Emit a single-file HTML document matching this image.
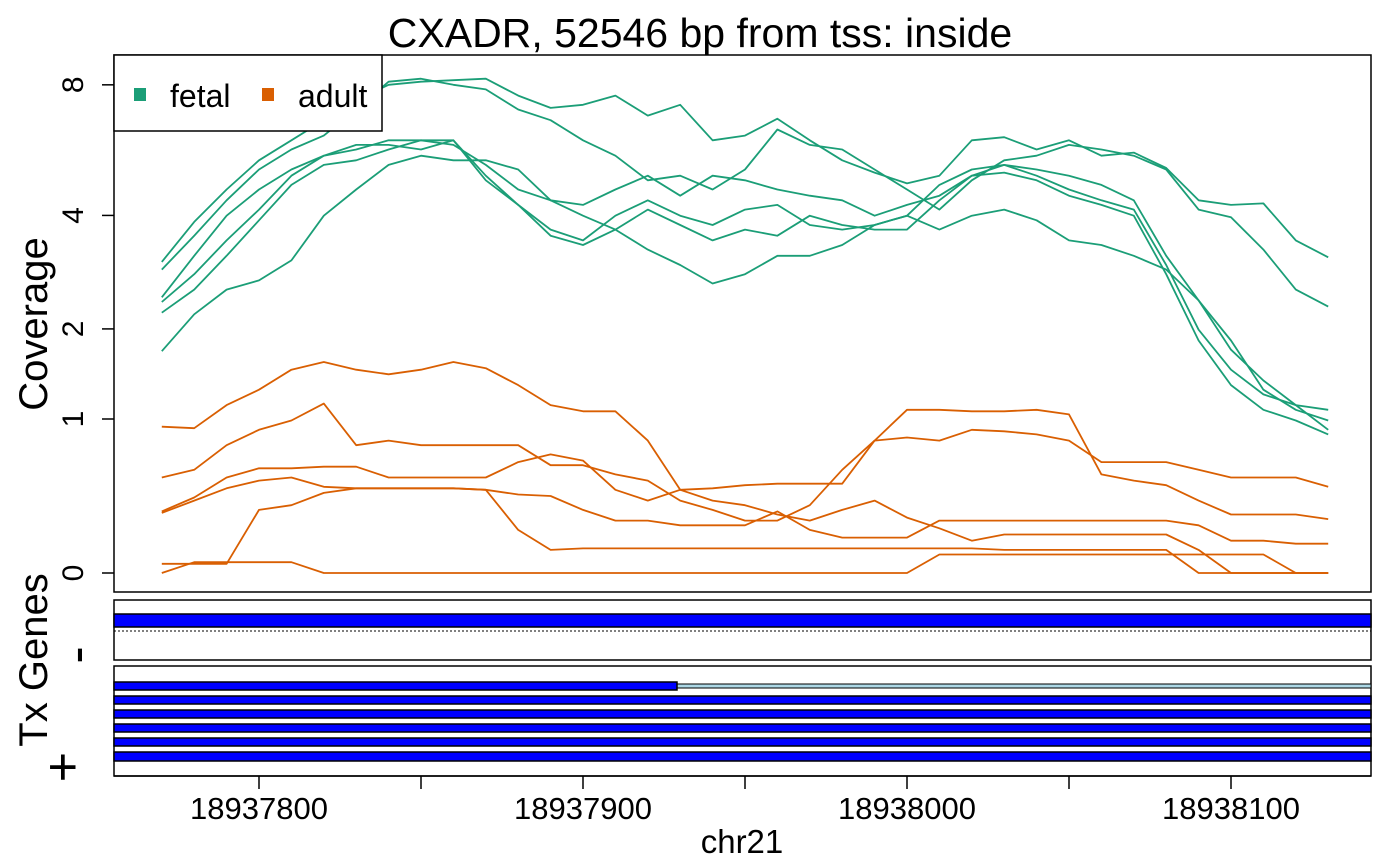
<!DOCTYPE html>
<html><head><meta charset="utf-8"><style>
html,body{margin:0;padding:0;background:#fff;}
svg{display:block;font-family:"Liberation Sans",Arial,sans-serif;}
</style></head><body>
<svg id="chart" width="1400" height="865" viewBox="0 0 1400 865">
<text x="700" y="47" text-anchor="middle" font-size="41">CXADR, 52546 bp from tss: inside</text>
<g id="ytitle"><text transform="translate(47,324) rotate(-90)" text-anchor="middle" font-size="40">Coverage</text></g>
<rect x="114" y="55" width="1257" height="537" fill="none" stroke="#000" stroke-width="1.5"/>
<g id="yaxis"></g>
<g id="series"></g>
<g>
<rect x="114" y="55" width="268" height="76" fill="#fff" stroke="#000" stroke-width="1.5"/>
<rect x="134" y="88" width="12" height="13" fill="#1b9e77"/>
<text x="170" y="107" font-size="32">fetal</text>
<rect x="262" y="88" width="12" height="13" fill="#d95f02"/>
<text x="298" y="107" font-size="32">adult</text>
</g>
<g>
<rect x="114" y="600" width="1257" height="60" fill="#fff" stroke="#000" stroke-width="1.5"/>
<rect x="114" y="614" width="1257" height="13" fill="#0000ff" stroke="#000" stroke-width="1.5"/>
<line x1="114" y1="631" x2="1371" y2="631" stroke="#000" stroke-width="1" stroke-dasharray="2,2"/>
</g>
<g>
<rect x="114" y="666" width="1257" height="110" fill="#fff" stroke="#000" stroke-width="1.5"/>
<rect x="677" y="684" width="694" height="4" fill="#add8e6" stroke="#000" stroke-width="1"/>
<rect x="114" y="682" width="563" height="8" fill="#0000ff" stroke="#000" stroke-width="1.5"/>
<rect x="114" y="696" width="1257" height="8" fill="#0000ff" stroke="#000" stroke-width="1.5"/>
<rect x="114" y="710" width="1257" height="8" fill="#0000ff" stroke="#000" stroke-width="1.5"/>
<rect x="114" y="724" width="1257" height="8" fill="#0000ff" stroke="#000" stroke-width="1.5"/>
<rect x="114" y="738" width="1257" height="8" fill="#0000ff" stroke="#000" stroke-width="1.5"/>
<rect x="114" y="752" width="1257" height="9" fill="#0000ff" stroke="#000" stroke-width="1.5"/>
</g>
<g>
<text transform="translate(47,660) rotate(-90)" text-anchor="middle" font-size="40">Tx Genes</text>
<text transform="translate(94,655) rotate(-90)" text-anchor="middle" font-size="52">-</text>
<text transform="translate(80,767) rotate(-90)" text-anchor="middle" font-size="52">+</text>
</g>
<g id="xaxis"></g>
<text x="742" y="853" text-anchor="middle" font-size="33">chr21</text>
</svg>
<script>
// positions (bp) and series values in log2(coverage + 1)
const positions = [];
for (let i = 0; i < 37; i++) positions.push(18937770 + 10 * i);
const yTickValues = [0, 1, 2, 4, 8];
const xTickValues = [18937800, 18937850, 18937900, 18937950, 18938000, 18938050, 18938100];
const xTickLabels = ["18937800", "", "18937900", "", "18938000", "", "18938100"];
const fetal1 = [2.02,2.28,2.49,2.68,2.81,2.94,3.07,3.17,3.19,3.20,3.21,3.10,3.02,3.04,3.10,2.97,3.04,2.81,2.84,2.95,2.81,2.68,2.60,2.53,2.58,2.81,2.83,2.75,2.81,2.71,2.73,2.63,2.42,2.39,2.40,2.16,2.05];
const fetal2 = [1.97,2.19,2.42,2.62,2.75,2.84,3.01,3.19,3.21,3.17,3.14,3.01,2.94,2.81,2.71,2.55,2.58,2.49,2.62,2.88,2.78,2.75,2.62,2.49,2.36,2.55,2.68,2.71,2.78,2.75,2.71,2.62,2.36,2.31,2.10,1.84,1.73];
const fetal3 = [1.79,2.06,2.32,2.49,2.62,2.71,2.75,2.81,2.81,2.78,2.65,2.49,2.42,2.39,2.49,2.58,2.45,2.58,2.55,2.49,2.45,2.42,2.32,2.39,2.45,2.58,2.65,2.62,2.58,2.52,2.42,2.06,1.77,1.45,1.25,1.09,1.06];
const fetal4 = [1.76,1.94,2.16,2.36,2.58,2.71,2.78,2.78,2.75,2.81,2.58,2.39,2.23,2.16,2.32,2.42,2.32,2.26,2.36,2.39,2.26,2.23,2.26,2.32,2.52,2.62,2.65,2.58,2.49,2.42,2.36,2.00,1.58,1.32,1.16,1.09,0.93];
const fetal5 = [1.69,1.84,2.06,2.29,2.52,2.65,2.68,2.75,2.81,2.81,2.55,2.39,2.19,2.13,2.23,2.36,2.26,2.16,2.23,2.19,2.32,2.26,2.23,2.23,2.42,2.58,2.60,2.55,2.45,2.39,2.32,1.94,1.51,1.22,1.06,0.99,0.90];
const fetal6 = [1.44,1.68,1.84,1.90,2.03,2.32,2.49,2.65,2.71,2.68,2.68,2.62,2.42,2.32,2.23,2.10,2.00,1.88,1.94,2.06,2.06,2.13,2.26,2.32,2.23,2.32,2.36,2.29,2.16,2.13,2.06,1.97,1.77,1.51,1.19,1.06,0.99];
const adult1 = [0.95,0.94,1.09,1.19,1.32,1.37,1.32,1.29,1.32,1.37,1.33,1.22,1.09,1.05,1.05,0.86,0.54,0.47,0.44,0.38,0.34,0.41,0.47,0.36,0.29,0.21,0.25,0.25,0.25,0.25,0.25,0.25,0.15,0,0,0,0];
const adult2 = [0.62,0.67,0.83,0.93,0.99,1.10,0.83,0.86,0.83,0.83,0.83,0.83,0.70,0.70,0.64,0.60,0.47,0.41,0.34,0.34,0.44,0.67,0.86,0.88,0.86,0.93,0.92,0.90,0.86,0.72,0.72,0.72,0.67,0.62,0.62,0.62,0.56];
const adult3 = [0.40,0.49,0.62,0.68,0.68,0.69,0.69,0.62,0.62,0.62,0.62,0.72,0.77,0.73,0.54,0.47,0.54,0.55,0.57,0.58,0.58,0.58,0.86,1.06,1.06,1.05,1.05,1.06,1.03,0.64,0.60,0.57,0.47,0.38,0.38,0.38,0.35];
const adult4 = [0.39,0.47,0.55,0.60,0.62,0.56,0.55,0.55,0.55,0.55,0.54,0.51,0.50,0.41,0.34,0.34,0.31,0.31,0.31,0.40,0.28,0.23,0.23,0.23,0.34,0.34,0.34,0.34,0.34,0.34,0.34,0.34,0.31,0.21,0.21,0.19,0.19];
const adult5 = [0.06,0.06,0.06,0.41,0.44,0.52,0.55,0.55,0.55,0.55,0.54,0.28,0.15,0.16,0.16,0.16,0.16,0.16,0.16,0.16,0.16,0.16,0.16,0.16,0.16,0.16,0.15,0.15,0.15,0.15,0.15,0.15,0,0,0,0,0];
const adult6 = [0,0.07,0.07,0.07,0.07,0,0,0,0,0,0,0,0,0,0,0,0,0,0,0,0,0,0,0,0.12,0.12,0.12,0.12,0.12,0.12,0.12,0.12,0.12,0.12,0.12,0,0];

const NS = "http://www.w3.org/2000/svg";
function xScale(bp){ return 259 + (bp - 18937800) * 3.24; }
function yScale(l){ return 573 - 154 * l; }
function yCov(c){ return yScale(Math.log2(c + 1)); }

const yaxis = document.getElementById('yaxis');
const xaxis = document.getElementById('xaxis');
const ser = document.getElementById('series');

yTickValues.forEach(v => {
  const y = yCov(v);
  const t = document.createElementNS(NS,'line');
  t.setAttribute('x1',102); t.setAttribute('x2',114); t.setAttribute('y1',y); t.setAttribute('y2',y);
  t.setAttribute('stroke','#000'); t.setAttribute('stroke-width','1.5');
  
  
  yaxis.appendChild(t);
  const lb = document.createElementNS(NS,'text');
  lb.setAttribute('transform','translate(83,'+y+') rotate(-90)');
  lb.setAttribute('text-anchor','middle'); lb.setAttribute('font-size','30');
  lb.textContent = String(v);
  
  
  yaxis.appendChild(lb);
});

const axl = document.createElementNS(NS,'line');
axl.setAttribute('x1',114); axl.setAttribute('x2',1371); axl.setAttribute('y1',776); axl.setAttribute('y2',776);
axl.setAttribute('stroke','#000'); axl.setAttribute('stroke-width','1.5');


xaxis.appendChild(axl);
xTickValues.forEach((v,i) => {
  const x = xScale(v);
  const t = document.createElementNS(NS,'line');
  t.setAttribute('x1',x); t.setAttribute('x2',x); t.setAttribute('y1',776); t.setAttribute('y2',789);
  t.setAttribute('stroke','#000'); t.setAttribute('stroke-width','1.5');
  
  
  xaxis.appendChild(t);
  if (xTickLabels[i]) {
    const lb = document.createElementNS(NS,'text');
    lb.setAttribute('x',x); lb.setAttribute('y',819);
    lb.setAttribute('text-anchor','middle'); lb.setAttribute('font-size','31');
    lb.textContent = xTickLabels[i];
    
    
    xaxis.appendChild(lb);
  }
});

function drawLine(vals, color, name){
  const p = document.createElementNS(NS,'polyline');
  p.setAttribute('points', vals.map((v,i)=> xScale(positions[i]).toFixed(1)+','+yScale(v).toFixed(1)).join(' '));
  p.setAttribute('fill','none'); p.setAttribute('stroke',color); p.setAttribute('stroke-width','1.8');
  p.setAttribute('stroke-linejoin','round');
  
  
  ser.appendChild(p);
}
[adult1,adult2,adult3,adult4,adult5,adult6].forEach((s,i)=>drawLine(s,'#d95f02','adult-line-'+(i+1)));
[fetal1,fetal2,fetal3,fetal4,fetal5,fetal6].forEach((s,i)=>drawLine(s,'#1b9e77','fetal-line-'+(i+1)));
</script>
</body></html>
